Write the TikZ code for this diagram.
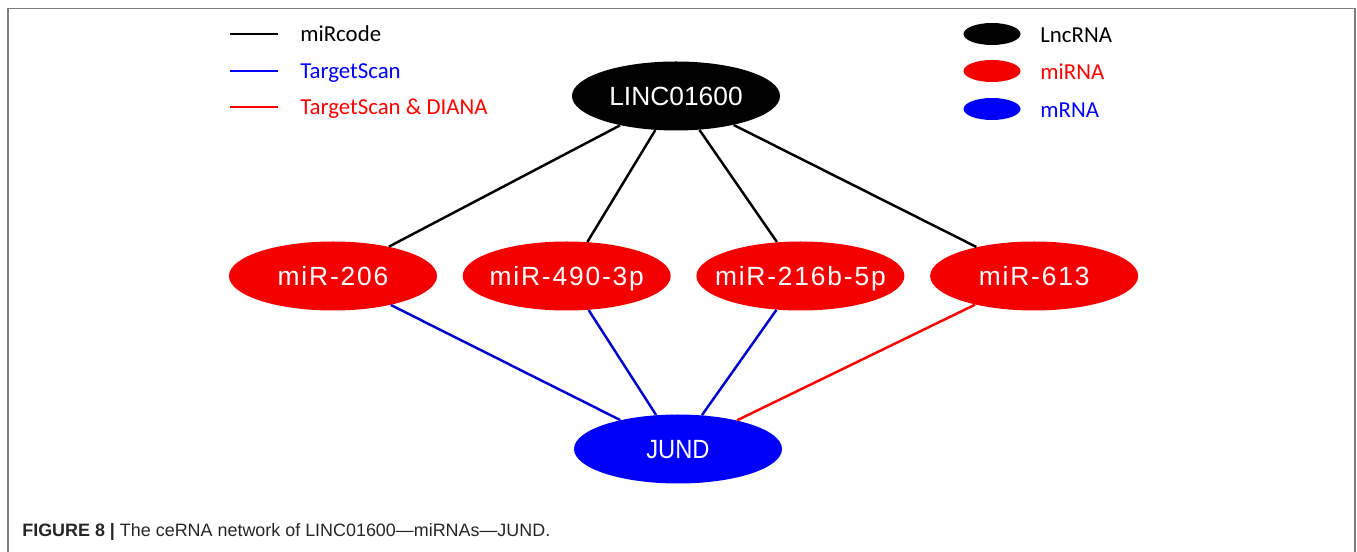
\documentclass[tikz,border=0pt]{standalone}
\usepackage{fontspec}
\setmainfont{Carlito}
\newfontfamily\nodefont{Liberation Sans}
\newfontfamily\mirfont[LetterSpace=7]{Liberation Sans}
\newfontfamily\jundfont[FakeStretch=0.9]{Liberation Sans}
\newfontfamily\capfont{Liberation Sans}
\usetikzlibrary{positioning, shapes.geometric}

\definecolor{mirred}{RGB}{245,0,0}
\definecolor{mrnablue}{RGB}{0,0,250}
\definecolor{edgeblue}{RGB}{0,0,205}
\definecolor{framegray}{RGB}{125,125,125}

\begin{document}
\begin{tikzpicture}[auto, node distance=0.5cm]
\tikzset{
    rna/.style={ellipse, inner xsep=-0.7cm, inner ysep=0pt, minimum width=4.16cm,
      minimum height=1.38cm, text height=0.38cm, text depth=0pt,
      text=white, font=\nodefont\fontsize{15}{18}\selectfont},
    lncrna/.style={rna, fill=black},
    mirna/.style={rna, fill=mirred, font=\mirfont\fontsize{15}{18}\selectfont},
    mrna/.style={rna, fill=mrnablue, font=\jundfont\fontsize{15}{18}\selectfont},
    link/.style={line width=1.4pt},
    keyblob/.style={ellipse, inner sep=0pt, minimum width=1.14cm, minimum height=0.44cm},
    keytext/.style={anchor=base west, inner sep=0pt, font=\fontsize{13}{15}\selectfont},
  }
\useasboundingbox (0,0) rectangle (27.14,-11.04);
\draw [framegray, line width=0.85pt] (0.16,-11.1) -- (0.16,-0.17) -- (27.1,-0.17) -- (27.1,-11.1);

% network
\node (lnc) [lncrna] at (13.52,-1.92) {LINC01600};
\node (mir_206) [mirna] at (6.66,-5.52) {miR-206};
\node (mir_490) [mirna, right=of mir_206] {miR-490-3p};
\node (mir_216b) [mirna, right=of mir_490] {miR-216b-5p};
\node (mir_613) [mirna, right=of mir_216b] {miR-613};
\node (jund) [mrna] at (13.56,-8.98) {JUND};

\draw [link] (lnc) -- (mir_206);
\draw [link] (lnc) -- (mir_490);
\draw [link] (lnc) -- (mir_216b);
\draw [link] (lnc) -- (mir_613);
\draw [link, edgeblue] (mir_206) -- (jund);
\draw [link, edgeblue] (mir_490) -- (jund);
\draw [link, edgeblue] (mir_216b) -- (jund);
\draw [link, red] (mir_613) -- (jund);

% legend: databases
\draw [link] (4.6,-0.68) -- (5.56,-0.68);
\draw [link, blue] (4.6,-1.42) -- (5.56,-1.42);
\draw [link, red] (4.6,-2.14) -- (5.56,-2.14);
\node (key_mircode) [keytext] at (6.0,-0.84) {miRcode};
\node (key_targetscan) [keytext, text=blue] at (6.0,-1.58) {TargetScan};
\node (key_diana) [keytext, text=red] at (6.0,-2.30) {TargetScan \& DIANA};

% legend: node types
\node (blob_lnc) [keyblob, fill=black] at (19.84,-0.68) {};
\node (blob_mir) [keyblob, fill=mirred] at (19.84,-1.42) {};
\node (blob_m) [keyblob, fill=mrnablue] at (19.84,-2.18) {};
\node (key_lnc) [keytext] at (20.8,-0.85) {LncRNA};
\node (key_mir) [keytext, text=red] at (20.8,-1.59) {miRNA};
\node (key_m) [keytext, text=blue] at (20.8,-2.35) {mRNA};

\node (caption) [anchor=base west, inner sep=0pt, text=black!85,
  font=\capfont\fontsize{10.2}{12}\selectfont] at (0.44,-10.72)
  {\textbf{FIGURE 8 |} The ceRNA network of LINC01600—miRNAs—JUND.};
\end{tikzpicture}
\end{document}
